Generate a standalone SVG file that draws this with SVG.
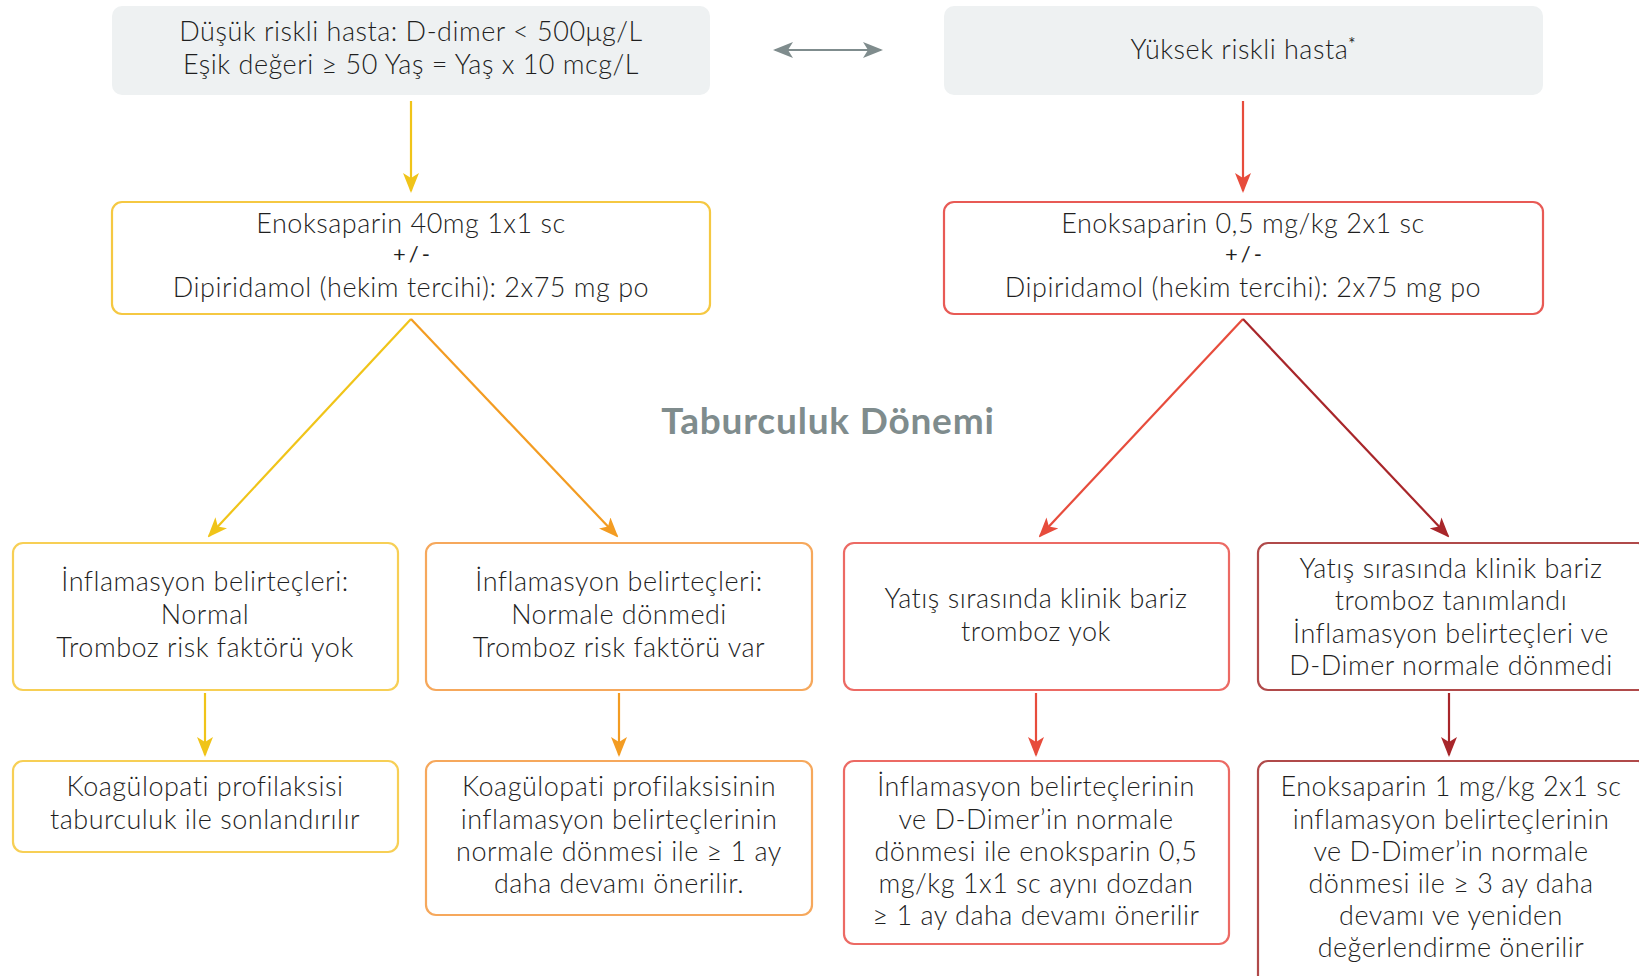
<svg xmlns="http://www.w3.org/2000/svg" width="1639" height="976" viewBox="0 0 1639 976">
<style>
text{font-family:Lato,"Noto Sans","DejaVu Sans",sans-serif;font-size:27px;font-weight:300;letter-spacing:0.5px;fill:#1f1f1f;text-anchor:middle}
.pm{font-size:22px;font-weight:normal;letter-spacing:3px}
.title{font-size:37px;font-weight:bold;letter-spacing:0.8px;fill:#7f8c8d}
.gray{fill:#eef1f2;stroke:none}
.box{fill:#fff;stroke-width:2.2}
.c{fill:none;stroke-width:2.2}
</style>
<defs>
<marker id="mY" viewBox="0 0 20 16" refX="18" refY="8" markerWidth="20" markerHeight="16" markerUnits="userSpaceOnUse" orient="auto"><path d="M0,0 L20,8 L0,16 L5,8 z" fill="#f0c419"/></marker>
<marker id="mO" viewBox="0 0 20 16" refX="18" refY="8" markerWidth="20" markerHeight="16" markerUnits="userSpaceOnUse" orient="auto"><path d="M0,0 L20,8 L0,16 L5,8 z" fill="#f39c22"/></marker>
<marker id="mR" viewBox="0 0 20 16" refX="18" refY="8" markerWidth="20" markerHeight="16" markerUnits="userSpaceOnUse" orient="auto"><path d="M0,0 L20,8 L0,16 L5,8 z" fill="#e74c3c"/></marker>
<marker id="mD" viewBox="0 0 20 16" refX="18" refY="8" markerWidth="20" markerHeight="16" markerUnits="userSpaceOnUse" orient="auto"><path d="M0,0 L20,8 L0,16 L5,8 z" fill="#a8262a"/></marker>
<marker id="mG" viewBox="0 0 20 16" refX="18" refY="8" markerWidth="22" markerHeight="16" markerUnits="userSpaceOnUse" orient="auto-start-reverse"><path d="M0,0 L20,8 L0,16 L5,8 z" fill="#7f8c8d"/></marker>
</defs>
<rect width="1639" height="976" fill="#fff"/>

<g id="connectors">
<line class="c" x1="775" y1="50" x2="881" y2="50" stroke="#7f8c8d" marker-start="url(#mG)" marker-end="url(#mG)"/>
<line class="c" x1="411" y1="101" x2="411" y2="191" stroke="#f0c419" marker-end="url(#mY)"/>
<line class="c" x1="1243" y1="101" x2="1243" y2="191" stroke="#e74c3c" marker-end="url(#mR)"/>
<line class="c" x1="411" y1="319" x2="209" y2="536" stroke="#f0c419" marker-end="url(#mY)"/>
<line class="c" x1="411" y1="319" x2="617" y2="536" stroke="#f39c22" marker-end="url(#mO)"/>
<line class="c" x1="1243" y1="319" x2="1040" y2="536" stroke="#e74c3c" marker-end="url(#mR)"/>
<line class="c" x1="1243" y1="319" x2="1448" y2="536" stroke="#a8262a" marker-end="url(#mD)"/>
<line class="c" x1="205" y1="693" x2="205" y2="755" stroke="#f0c419" marker-end="url(#mY)"/>
<line class="c" x1="619" y1="693" x2="619" y2="755" stroke="#f39c22" marker-end="url(#mO)"/>
<line class="c" x1="1036" y1="693" x2="1036" y2="755" stroke="#e74c3c" marker-end="url(#mR)"/>
<line class="c" x1="1449" y1="693" x2="1449" y2="755" stroke="#a8262a" marker-end="url(#mD)"/>
</g>

<g id="n-low">
<rect class="gray" x="112" y="6" width="598" height="89" rx="10"/>
<text x="411" y="41">Düşük riskli hasta: D-dimer &lt; 500μg/L</text>
<text x="411" y="74">Eşik değeri ≥ 50 Yaş = Yaş x 10 mcg/L</text>
</g>
<g id="n-high">
<rect class="gray" x="944" y="6" width="599" height="89" rx="10"/>
<text x="1243" y="59">Yüksek riskli hasta<tspan font-size="17" dy="-9" letter-spacing="0" font-weight="normal">*</tspan></text>
</g>

<g id="n-eno40">
<rect class="box" x="112" y="202" width="598" height="112" rx="10" stroke="#f5c842"/>
<text x="411" y="233">Enoksaparin 40mg 1x1 sc</text>
<text class="pm" x="413" y="262">+/-</text>
<text x="411" y="297">Dipiridamol (hekim tercihi): 2x75 mg po</text>
</g>
<g id="n-eno05">
<rect class="box" x="944" y="202" width="599" height="112" rx="10" stroke="#e85a55"/>
<text x="1243" y="233">Enoksaparin 0,5 mg/kg 2x1 sc</text>
<text class="pm" x="1245" y="262">+/-</text>
<text x="1243" y="297">Dipiridamol (hekim tercihi): 2x75 mg po</text>
</g>

<g id="title">
<text class="title" x="828" y="434">Taburculuk Dönemi</text>
</g>

<g id="n-normal">
<rect class="box" x="13" y="543" width="385" height="147" rx="10" stroke="#f7cf55"/>
<text x="205" y="591">İnflamasyon belirteçleri:</text>
<text x="205" y="624">Normal</text>
<text x="205" y="657">Tromboz risk faktörü yok</text>
</g>
<g id="n-notnormal">
<rect class="box" x="426" y="543" width="386" height="147" rx="10" stroke="#f6a85c"/>
<text x="619" y="591">İnflamasyon belirteçleri:</text>
<text x="619" y="624">Normale dönmedi</text>
<text x="619" y="657">Tromboz risk faktörü var</text>
</g>
<g id="n-notromb">
<rect class="box" x="844" y="543" width="385" height="147" rx="10" stroke="#ec6a64"/>
<text x="1036" y="608">Yatış sırasında klinik bariz</text>
<text x="1036" y="641">tromboz yok</text>
</g>
<g id="n-tromb">
<rect class="box" x="1258" y="543" width="390" height="147" rx="10" stroke="#b04a4a"/>
<text x="1451" y="578">Yatış sırasında klinik bariz</text>
<text x="1451" y="610">tromboz tanımlandı</text>
<text x="1451" y="643">İnflamasyon belirteçleri ve</text>
<text x="1451" y="675">D-Dimer normale dönmedi</text>
</g>

<g id="n-end">
<rect class="box" x="13" y="761" width="385" height="91" rx="10" stroke="#f7cf55"/>
<text x="205" y="796">Koagülopati profilaksisi</text>
<text x="205" y="829">taburculuk ile sonlandırılır</text>
</g>
<g id="n-1ay">
<rect class="box" x="426" y="761" width="386" height="154" rx="10" stroke="#f6a85c"/>
<text x="619" y="796">Koagülopati profilaksisinin</text>
<text x="619" y="829">inflamasyon belirteçlerinin</text>
<text x="619" y="861">normale dönmesi ile ≥ 1 ay</text>
<text x="619" y="893">daha devamı önerilir.</text>
</g>
<g id="n-eno05b">
<rect class="box" x="844" y="761" width="385" height="183" rx="10" stroke="#ec6a64"/>
<text x="1036" y="796">İnflamasyon belirteçlerinin</text>
<text x="1036" y="829">ve D-Dimer’in normale</text>
<text x="1036" y="861">dönmesi ile enoksparin 0,5</text>
<text x="1036" y="893">mg/kg 1x1 sc aynı dozdan</text>
<text x="1036" y="925">≥ 1 ay daha devamı önerilir</text>
</g>
<g id="n-eno1">
<rect class="box" x="1258" y="761" width="390" height="230" rx="10" stroke="#b04a4a"/>
<text x="1451" y="796">Enoksaparin 1 mg/kg 2x1 sc</text>
<text x="1451" y="829">inflamasyon belirteçlerinin</text>
<text x="1451" y="861">ve D-Dimer’in normale</text>
<text x="1451" y="893">dönmesi ile ≥ 3 ay daha</text>
<text x="1451" y="925">devamı ve yeniden</text>
<text x="1451" y="957">değerlendirme önerilir</text>
</g>
</svg>
